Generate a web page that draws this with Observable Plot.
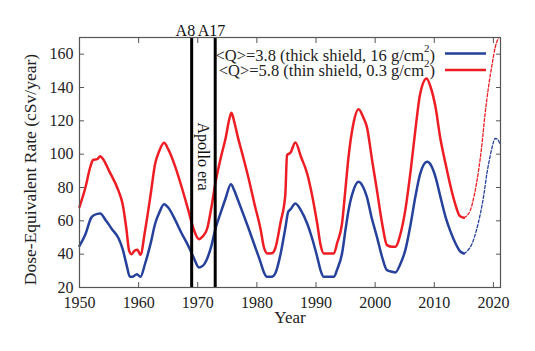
<!DOCTYPE html>
<html>
<head>
<meta charset="utf-8">
<script src="https://cdn.jsdelivr.net/npm/d3@7"></script>
<script src="https://cdn.jsdelivr.net/npm/@observablehq/plot@0.6"></script>
<style>
  html, body { margin: 0; padding: 0; background: #fff; }
</style>
</head>
<body>
<div id="chart"></div>
<script>
// ---- data ----
const thickYears = [1950, 1951, 1952, 1952.5, 1953.5, 1954.5, 1955.5, 1956.6, 1957.3, 1958, 1958.5, 1959, 1959.7, 1960.3, 1961.1, 1962, 1962.8, 1963.5, 1964.3, 1965, 1966.2, 1967.2, 1968.4, 1969.3, 1970.2, 1971, 1971.6, 1972.3, 1973.0, 1973.8, 1974.7, 1975.6, 1976.2, 1976.7, 1977.7, 1978.6, 1979.5, 1980.6, 1981.2, 1981.7, 1982.5, 1983.1, 1984, 1984.8, 1985.3, 1985.7, 1986.5, 1987.5, 1988.5, 1989.3, 1990.2, 1990.8, 1991.3, 1993, 1993.6, 1994.4, 1995, 1995.5, 1996.3, 1997.2, 1998, 1998.6, 1999.4, 2000.3, 2001.2, 2002, 2002.9, 2003.4, 2004.3, 2005.1, 2006, 2006.8, 2007.6, 2008.8, 2009.5, 2010.2, 2011, 2011.9, 2012.7, 2013.6, 2014.3, 2015];
const thickValues = [45, 52, 62, 63.5, 64.4, 60, 55, 49.5, 43, 33, 26.5, 26.5, 28, 26.4, 34.4, 46, 58.4, 65, 70, 68, 60.4, 53, 45, 38, 32, 33.5, 37.4, 45, 55.4, 64, 73.4, 82, 78, 73.4, 64, 55.4, 46.4, 35.4, 29, 26.4, 26.4, 28.4, 40, 55.4, 65.4, 67, 70.4, 66, 58.4, 50, 38.4, 30, 26.4, 26.4, 31, 40.4, 55, 66.4, 78, 83.4, 80, 74.4, 62, 50.4, 38, 30.4, 29.4, 29, 34.4, 42.4, 58, 74.4, 88, 95.4, 93, 86.4, 75, 62.4, 54, 46.4, 42, 40.4];

const thickProjYears = [2015, 2015.6, 2016.4, 2017.1, 2017.8, 2018.4, 2018.9, 2019.4, 2019.8, 2020.3, 2020.7, 2021.1];
const thickProjValues = [40.4, 42, 46.4, 54, 64.4, 76, 88.4, 98, 104.5, 109.4, 109, 106];

const thinYears = [1950, 1951, 1951.8, 1952.3, 1953, 1953.5, 1954, 1955, 1956.6, 1957.3, 1957.9, 1958.4, 1958.8, 1959.3, 1959.8, 1960.3, 1961.1, 1962, 1962.8, 1963.5, 1964.3, 1965, 1966.2, 1967.3, 1968.4, 1969.3, 1970.2, 1970.8, 1971.6, 1972.3, 1973.0, 1973.9, 1974.7, 1975.4, 1975.7, 1976.2, 1976.7, 1977.7, 1978.6, 1979.6, 1980.6, 1981.2, 1981.8, 1982.5, 1983.1, 1984, 1984.8, 1985.1, 1985.7, 1986.5, 1987.5, 1988.5, 1989.3, 1990.2, 1990.8, 1991.3, 1993, 1993.6, 1994.4, 1995, 1995.5, 1996.3, 1997.2, 1998, 1998.6, 1999.5, 2000.3, 2001.2, 2002, 2002.9, 2003.4, 2004.3, 2005.1, 2006, 2006.8, 2007.6, 2008.7, 2009.4, 2010.2, 2011, 2011.9, 2012.8, 2013.6, 2014.3, 2015];
const thinValues = [68.4, 80, 92, 96.5, 97, 98.8, 97, 90, 78, 70, 56, 42, 40, 42, 42.6, 39.6, 54.4, 75, 94.4, 102, 106.8, 103, 92.4, 80, 66.4, 55, 49, 50.5, 55.4, 68, 83, 98, 109.4, 122, 124.8, 119, 111.4, 98, 85.4, 70, 55.4, 44, 40.4, 40.5, 43.4, 59, 75.4, 99.4, 101, 107, 98, 88.4, 76, 58.4, 45, 40.4, 40.4, 47, 58.4, 80, 98.4, 118, 127, 122, 116.4, 96, 78.4, 58, 45.4, 44.4, 44.4, 52.4, 66.4, 90, 114.4, 136, 145.4, 140, 128.4, 110, 94.4, 80, 69.4, 63, 61.8];

const thinProjYears = [2015, 2015.5, 2016.1, 2016.8, 2017.5, 2018, 2018.6, 2019.2, 2019.8, 2020.3, 2020.7, 2021.2];
const thinProjValues = [61.8, 63, 66.4, 76, 90.4, 104, 124.4, 141, 154.4, 164, 168.5, 171];

const apolloYears = [1968.97, 1972.95];
const apolloLabels = ["A8", "A17"];
const apolloEra = "Apollo era";

const xTicks = [1950, 1960, 1970, 1980, 1990, 2000, 2010, 2020];
const yTicks = [20, 40, 60, 80, 100, 120, 140, 160];

const seriesNames = ["<Q>=3.8 (thick shield, 16 g/cm", "<Q>=5.8 (thin shield, 0.3 g/cm"];
const xLabel = "Year";
const yLabel = "Dose-Equivalent Rate (cSv/year)";

// ---- tables ----
const toRows = (xs, ys) => xs.map((x, i) => ({year: x, value: ys[i]}));
const thick = toRows(thickYears, thickValues);
const thickProj = toRows(thickProjYears, thickProjValues);
const thin = toRows(thinYears, thinValues);
const thinProj = toRows(thinProjYears, thinProjValues);
const apollo = apolloYears.map((y, i) => ({year: y, label: apolloLabels[i]}));

const BLUE = "#25419b";
const RED = "#ee1d24";
const FONT = "'Liberation Serif', 'Times New Roman', serif";

const chart = Plot.plot({
  width: 535,
  height: 351,
  marginLeft: 79,
  marginRight: 35,
  marginTop: 37,
  marginBottom: 64,
  style: {fontFamily: FONT, fontSize: "16px", color: "#222", background: "#fff"},
  x: {domain: [1950, 2021.2]},
  y: {domain: [20, 170]},
  marks: [
    Plot.line(thick, {x: "year", y: "value", stroke: BLUE, strokeWidth: 2.5, curve: "monotone-x"}),
    Plot.line(thin, {x: "year", y: "value", stroke: RED, strokeWidth: 2.5, curve: "monotone-x"}),
    Plot.line(thickProj, {x: "year", y: "value", stroke: BLUE, strokeWidth: 1.3, strokeDasharray: "3,2", curve: "monotone-x", clip: true}),
    Plot.line(thinProj, {x: "year", y: "value", stroke: RED, strokeWidth: 1.3, strokeDasharray: "3,2", curve: "monotone-x", clip: true}),
    Plot.ruleX(apollo, {x: "year", stroke: "#000", strokeWidth: 3}),
    Plot.text(apollo.slice(0, 1), {x: "year", text: "label", frameAnchor: "top", lineAnchor: "bottom", dy: -2,
      textAnchor: "end", dx: 3.5, fill: "#111", fontSize: 16}),
    Plot.text(apollo.slice(1, 2), {x: "year", text: "label", frameAnchor: "top", lineAnchor: "bottom", dy: -2,
      textAnchor: "start", dx: -17.5, fill: "#111", fontSize: 16}),
    Plot.text([apolloEra], {x: [d3.mean(apolloYears)], frameAnchor: "middle", rotate: 90, dx: 0, dy: -6, fill: "#111", fontSize: 16}),
    Plot.frame({stroke: "#555", strokeWidth: 1.2}),
    Plot.axisX(xTicks, {anchor: "bottom", tickSize: -5, tickPadding: 14, tickFormat: d => String(d), label: null, stroke: "#555"}),
    Plot.axisX(xTicks, {anchor: "top", tickSize: -5, tickFormat: () => "", label: null, stroke: "#555"}),
    Plot.axisY(yTicks, {anchor: "left", tickSize: -5, tickPadding: 11, tickFormat: d => String(d), label: null, stroke: "#555"}),
    Plot.axisY(yTicks, {anchor: "right", tickSize: -5, tickFormat: () => "", label: null, stroke: "#555"}),
    Plot.text([xLabel], {frameAnchor: "bottom", dy: 35, fontSize: 17, fill: "#222"}),
    Plot.text([yLabel], {frameAnchor: "left", textAnchor: "middle", rotate: -90, dx: -49, dy: 7, fontSize: 17.5, fill: "#222"})
  ]
});

// legend inside the frame (top right)
const svg = d3.select(chart);
const legend = svg.append("g").attr("font-family", FONT).attr("fill", "#222");
const legendRows = [
  {name: seriesNames[0], color: BLUE, ty: 61, ly: 53.5},
  {name: seriesNames[1], color: RED, ty: 76, ly: 70}
];
legendRows.forEach(r => {
  const t = legend.append("text").attr("x", 435).attr("y", r.ty).attr("text-anchor", "end").attr("font-size", 16.5);
  t.append("tspan").text(r.name);
  t.append("tspan").attr("font-size", 11).attr("dy", -9).text("2");
  t.append("tspan").attr("dy", 9).text(")");
  legend.append("line").attr("x1", 445).attr("x2", 486).attr("y1", r.ly).attr("y2", r.ly)
    .attr("stroke", r.color).attr("stroke-width", 2.5);
});

document.getElementById("chart").appendChild(chart);
</script>
</body>
</html>
